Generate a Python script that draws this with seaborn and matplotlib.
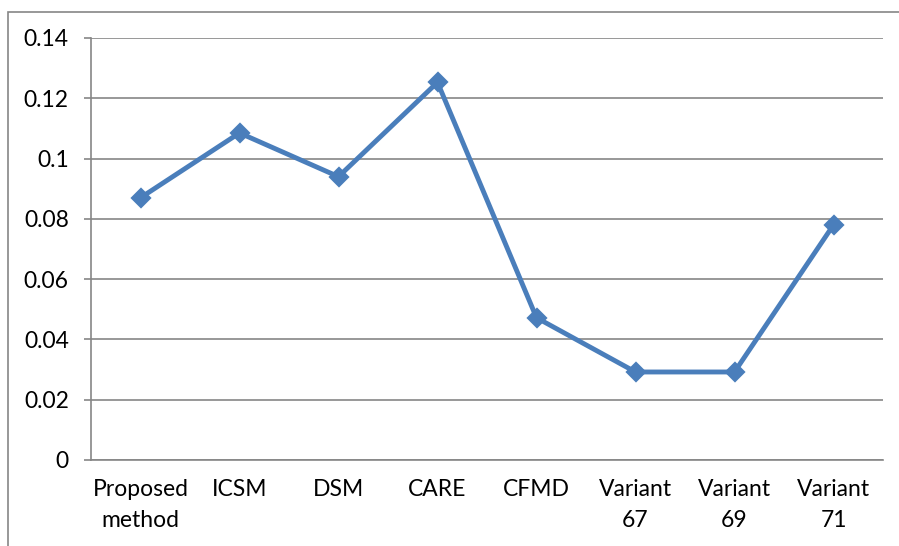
import matplotlib
matplotlib.use("Agg")
import matplotlib.pyplot as plt
import seaborn as sns
import numpy as np
import pandas as pd
from matplotlib.patches import Rectangle

methods = ['Proposed\nmethod', 'ICSM', 'DSM', 'CARE', 'CFMD',
           'Variant\n67', 'Variant\n69', 'Variant\n71']
scores = [0.087, 0.1085, 0.094, 0.1253, 0.0472, 0.0292, 0.0292, 0.078]
y_ticks = [0, 0.02, 0.04, 0.06, 0.08, 0.1, 0.12, 0.14]
y_labels = ['0', '0.02', '0.04', '0.06', '0.08', '0.1', '0.12', '0.14']

sns.set_style('white')
plt.rcParams['font.family'] = ['Lato', 'DejaVu Sans']

grid_col = '#868686'
line_col = '#4A7EBB'

fig = plt.figure(figsize=(8.99, 5.46), dpi=100)
ax = fig.add_axes([91 / 899, 1 - 460 / 546, 792 / 899, 422 / 546])

# outer chart frame (Excel style)
fig.patches.append(Rectangle((8 / 899, -0.1), 1.2, 1 - 12 / 546 + 0.1,
                             transform=fig.transFigure, fill=False,
                             edgecolor=grid_col, linewidth=1.2))

df = pd.DataFrame({'method': methods, 'score': scores})
sns.pointplot(data=df, x='method', y='score', ax=ax, color=line_col,
              markers='D', linewidth=3.5, markersize=8.5, errorbar=None)

ax.set_xlim(-0.5, len(methods) - 0.5)
ax.set_ylim(0, 0.14)
ax.set_yticks(y_ticks)
ax.set_yticklabels(y_labels)
ax.yaxis.grid(True, color=grid_col, linewidth=1.2)
ax.set_axisbelow(True)
ax.set_xlabel('')
ax.set_ylabel('')

for s in ['top', 'right']:
    ax.spines[s].set_visible(False)
for s in ['left', 'bottom']:
    ax.spines[s].set_color(grid_col)
    ax.spines[s].set_linewidth(1.2)

ax.set_xticks(np.arange(-0.5, len(methods)), minor=True)
ax.tick_params(axis='x', which='major', length=0, pad=14, labelsize=16.5,
               colors='black')
ax.tick_params(axis='x', which='minor', length=5, width=1.2,
               color=grid_col, direction='out')
ax.tick_params(axis='y', length=5, width=1.2, color=grid_col,
               pad=11, labelsize=16.5, labelcolor='black', left=True)
for lbl in ax.get_xticklabels():
    lbl.set_linespacing(1.55)

fig.savefig('out.png', dpi=100)
